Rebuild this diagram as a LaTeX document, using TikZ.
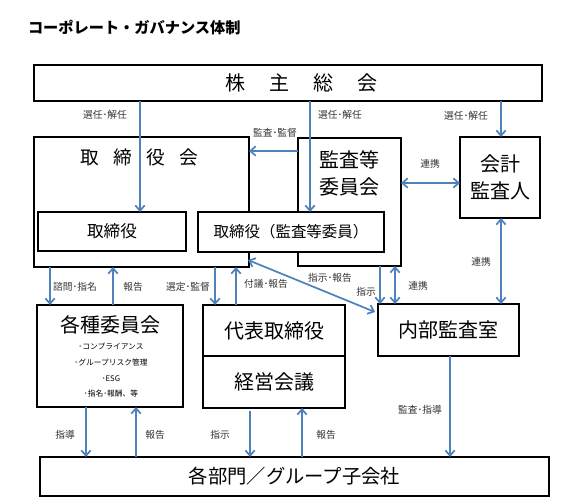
\documentclass[tikz,border=0pt]{standalone}
\usepackage{fontspec}
\setmainfont{Noto Sans CJK JP}
\usetikzlibrary{arrows.meta,calc}
\definecolor{linkblue}{RGB}{79,129,189}
\newlength{\pxu}
\setlength{\pxu}{0.75pt}

\begin{document}
\begin{tikzpicture}[x=0.75pt,y=-0.75pt,inner sep=0pt,outer sep=0pt,
>={Straight Barb[length=4pt,width=7pt]},
orgbox/.style={draw,rectangle,fill=white,line width=1.6pt,align=center,font=\fontsize{15}{20}\selectfont},
link/.style={draw=linkblue,line width=1.3pt},
lab/.style={font=\fontsize{7.3}{8}\selectfont,text=black!80}]

\useasboundingbox (0,0) rectangle (567,502);

%%% Title
\draw (28,28) node[anchor=west,font=\fontsize{11.4}{14}\selectfont\bfseries] (title) {コーポレート・ガバナンス体制};

%%%%% Boxes %%%%%
\draw (288,83) node[orgbox,minimum width=508\pxu,minimum height=36\pxu] (kabu) {\hspace*{26\pxu}株\hspace{1.2em}主\hspace{1.2em}総\hspace{1.2em}会};

	%%% Board and audit committee (inner boxes drawn on top)
	\draw (141.5,202) node[orgbox,minimum width=215\pxu,minimum height=130\pxu] (torikai) {};
	\draw (139,157) node[font=\fontsize{14}{16}\selectfont] (torikaiT) {取\hspace{0.77em}締\hspace{0.77em}役\hspace{0.77em}会};
	\draw (349.5,202) node[orgbox,minimum width=103\pxu,minimum height=128\pxu] (kansa) {};
	\draw (349.5,173.5) node[font=\fontsize{15}{20}\selectfont,align=center] (kansaT) {監査等\\委員会};
	\draw (112,231.5) node[orgbox,minimum width=148\pxu,minimum height=39\pxu,font=\fontsize{12.5}{15}\selectfont] (tori) {取締役};
	\draw (291,232) node[orgbox,minimum width=186\pxu,minimum height=40\pxu,font=\fontsize{11.6}{14}\selectfont] (toriK) {取締役（監査等委員）};

\draw (500,177.5) node[orgbox,minimum width=80\pxu,minimum height=81\pxu] (kaikei) {会計\\監査人};
\draw (448.5,330) node[orgbox,minimum width=141\pxu,minimum height=52\pxu] (naibu) {内部監査室};

	%%% Committees
	\draw (110,356) node[orgbox,minimum width=146\pxu,minimum height=102\pxu] (iinkai) {};
	\draw (110,325) node[font=\fontsize{15}{20}\selectfont] (iinkaiT) {各種委員会};
	\draw (111,370.5) node[font=\fontsize{5.8}{11.8}\selectfont,align=center] (iinkaiL) {･コンプライアンス\\･グループリスク管理\\･ESG\\･指名･報酬、等};

\draw (274,330.5) node[orgbox,minimum width=142\pxu,minimum height=51\pxu] (daihyo) {代表取締役};
\draw (274,382) node[orgbox,minimum width=142\pxu,minimum height=52\pxu] (keiei) {経営会議};
\draw (294.5,476.5) node[orgbox,minimum width=509\pxu,minimum height=39\pxu,font=\fontsize{14.5}{16}\selectfont] (bumon) {各部門／グループ子会社};
%%%%%%%%%%%%%%%%%%%%%%%%%

%%% x positions of the vertical links
\foreach \n/\x in {1/140,2/310,3/501,7/380,8/395,10/50,11/113,12/215,13/236,14/86,15/136,16/250,17/302,18/450}
	\coordinate (v\n) at (\x,0);
%%% y positions of the horizontal links
\coordinate (h4) at (0,151);
\coordinate (h5) at (0,183);

%%% Shareholders
\draw[link,->] (kabu.south -| v1) -- (tori.north -| v1);
\draw[link,->] (kabu.south -| v2) -- (toriK.north -| v2);
\draw[link,->] (kabu.south -| v3) -- (kaikei.north -| v3);
\draw (105,115) node[lab] (l1) {選任･解任};
\draw (340,115) node[lab] (l2) {選任･解任};
\draw (466,116) node[lab] (l3) {選任･解任};

%%% Audit committee links
\draw[link,->] (kansa.west |- h4) -- (torikai.east |- h4);
\draw[link,<->] (kansa.east |- h5) -- (kaikei.west |- h5);
\draw[link,<->] (kaikei.south -| v3) -- (naibu.north -| v3);
\draw[link,->] (kansa.south -| v7) -- (naibu.north -| v7);
\draw[link,<->] (kansa.south -| v8) -- (naibu.north -| v8);
\draw[link,<->] ($(torikai.south east)+(-1,-7)$) -- ($(naibu.north west)+(-3,8)$);
\draw (275,133) node[lab] (l4) {監査･監督};
\draw (430,164) node[lab] (l5) {連携};
\draw (481,262) node[lab] (l6) {連携};
\draw (366,292) node[lab] (l7) {指示};
\draw (418,286) node[lab] (l8) {連携};
\draw (330,278) node[lab] (l9) {指示･報告};

%%% Board to committees / representative director
\draw[link,->] (torikai.south -| v10) -- (iinkai.north -| v10);
\draw[link,->] (iinkai.north -| v11) -- (torikai.south -| v11);
\draw[link,->] (torikai.south -| v12) -- (daihyo.north -| v12);
\draw[link,->] (daihyo.north -| v13) -- (torikai.south -| v13);
\draw (75,287) node[lab] (l10) {諮問･指名};
\draw (133,287) node[lab] (l11) {報告};
\draw (188,287) node[lab] (l12) {選定･監督};
\draw (266,284) node[lab] (l13) {付議･報告};

%%% Links to the departments
\draw[link,->] (iinkai.south -| v14) -- (bumon.north -| v14);
\draw[link,->] (bumon.north -| v15) -- (iinkai.south -| v15);
\draw[link,->] ([yshift=-2pt]keiei.south -| v16) -- (bumon.north -| v16);
\draw[link,->] (bumon.north -| v17) -- (keiei.south -| v17);
\draw[link,->] (naibu.south -| v18) -- (bumon.north -| v18);
\draw (65,435) node[lab] (l14) {指導};
\draw (155,435) node[lab] (l15) {報告};
\draw (220,435) node[lab] (l16) {指示};
\draw (326,435) node[lab] (l17) {報告};
\draw (420,410) node[lab] (l18) {監査･指導};

\end{tikzpicture}
\end{document}
